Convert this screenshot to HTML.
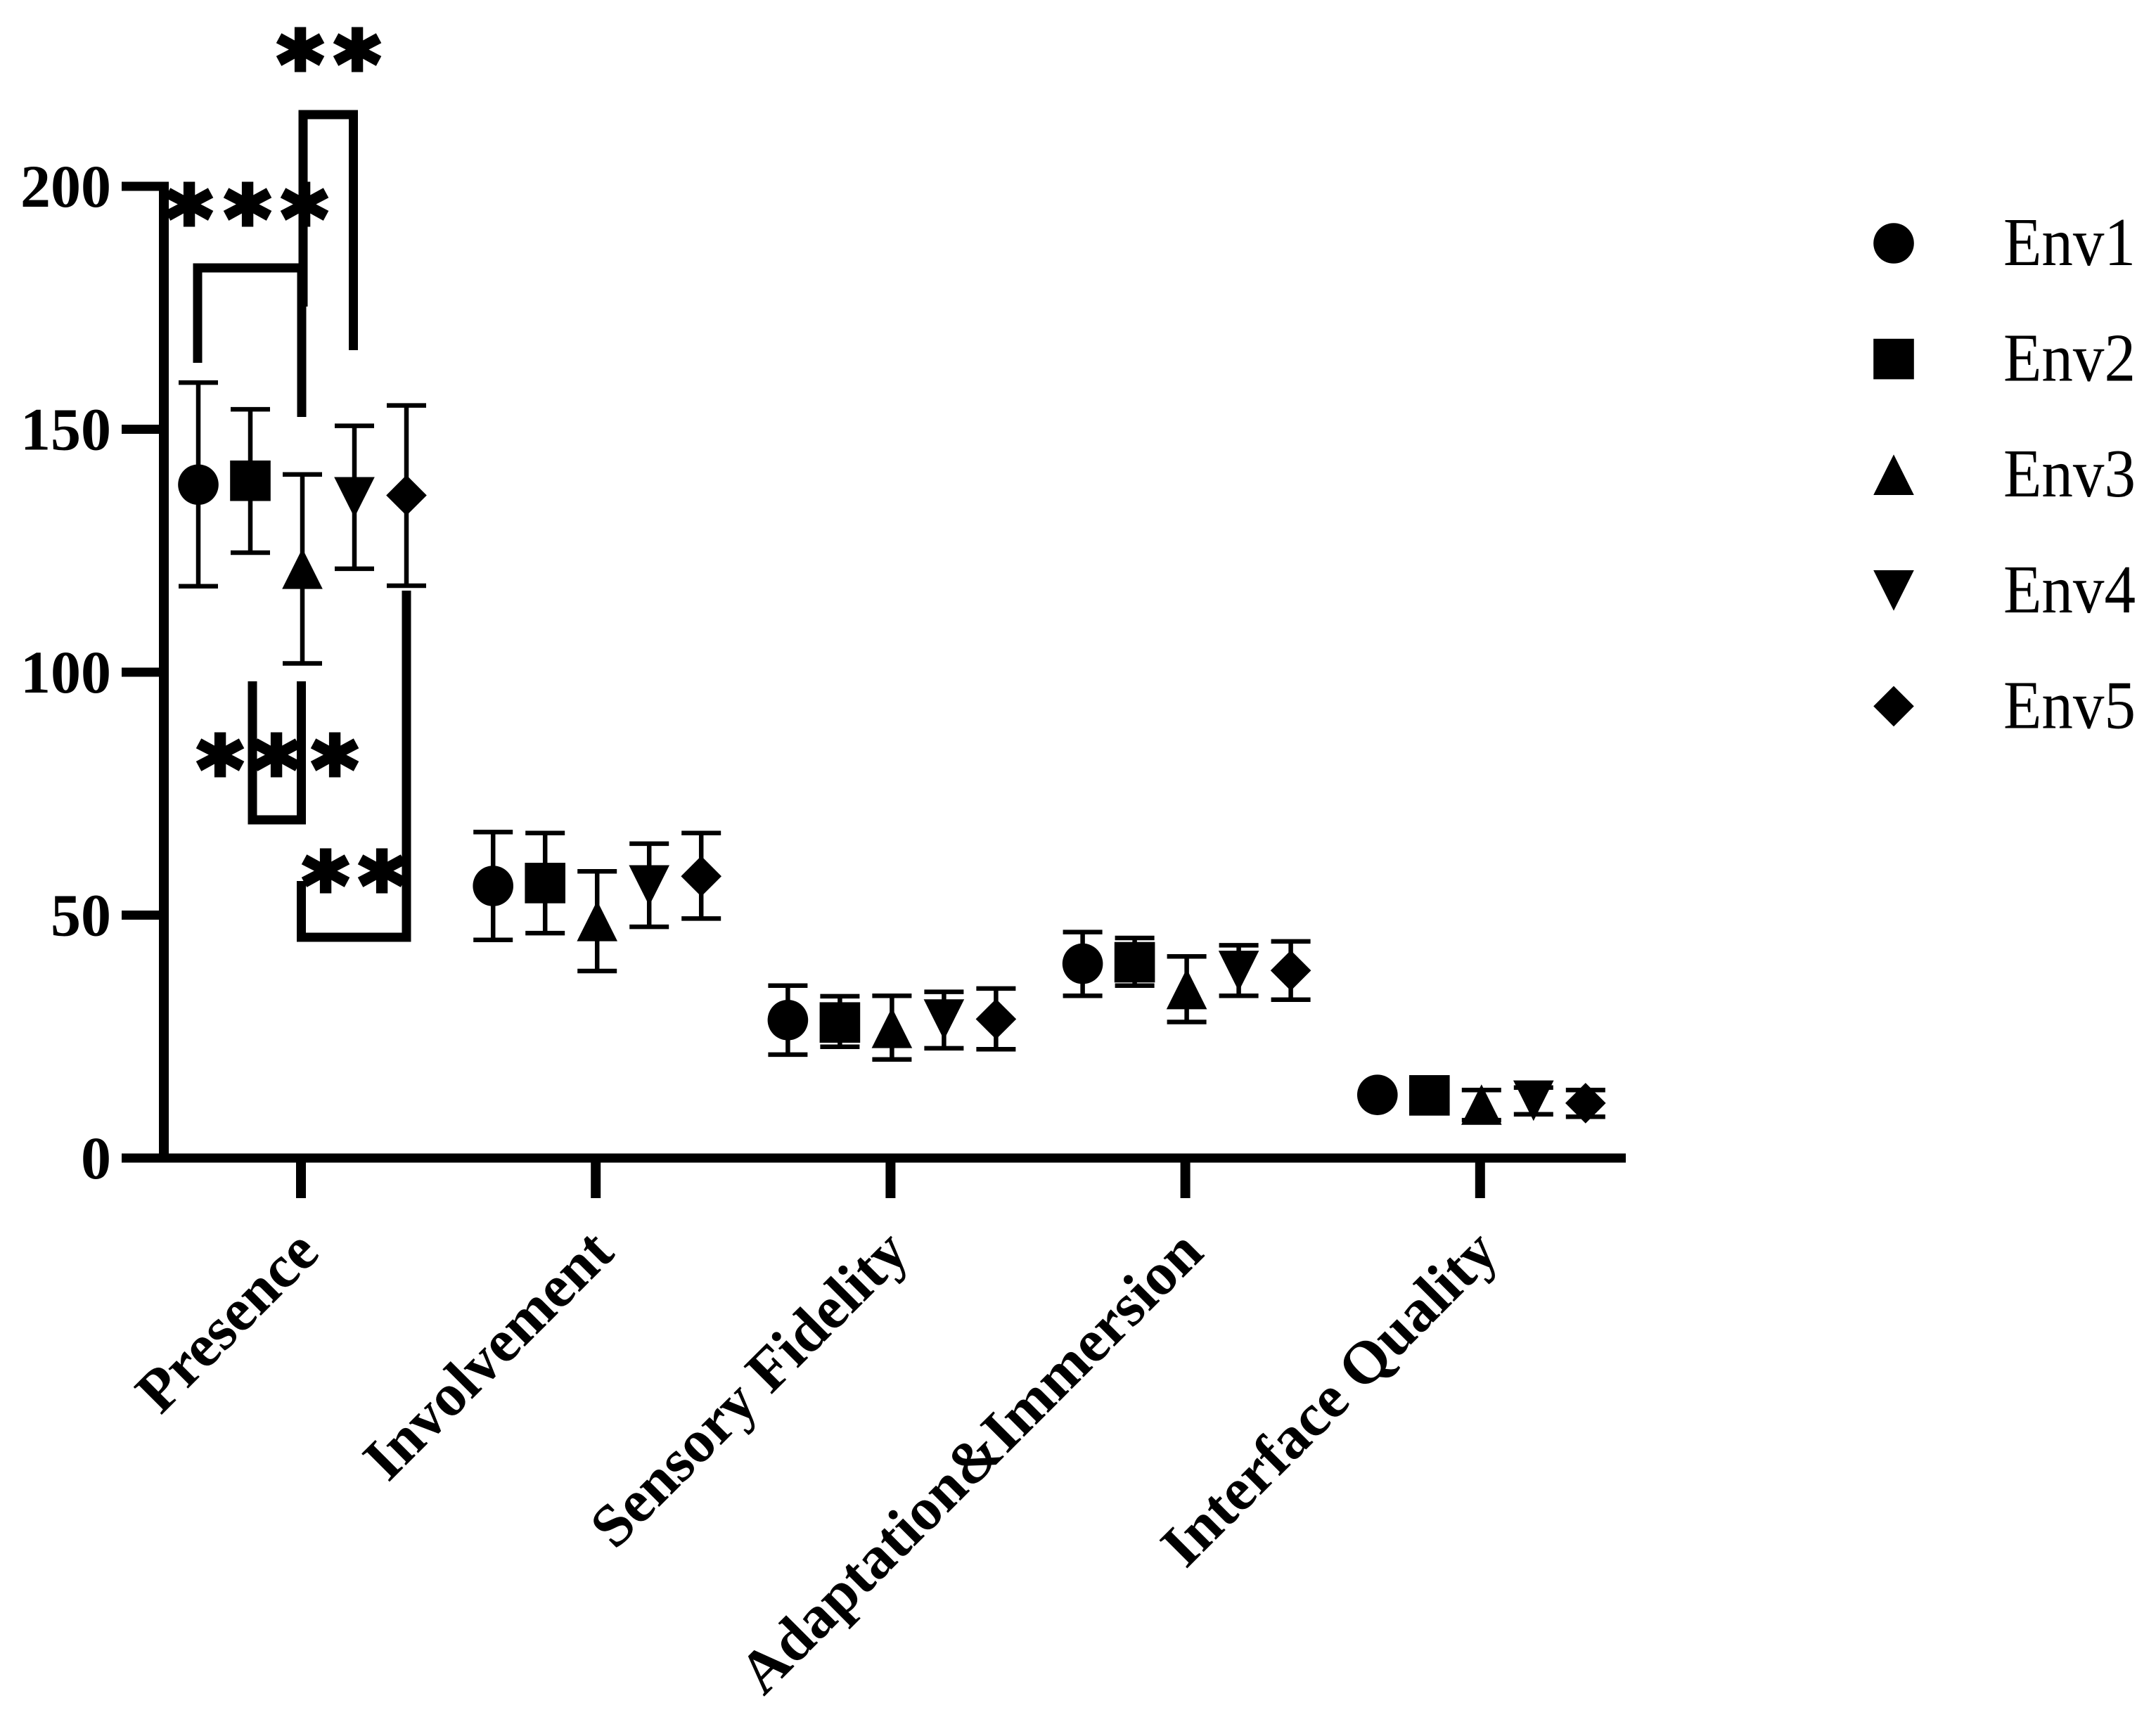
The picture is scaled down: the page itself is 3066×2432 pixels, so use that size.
<!DOCTYPE html>
<html lang="en">
<head>
<meta charset="utf-8">
<title>Env scores by category</title>
<style>
html,body{margin:0;padding:0;background:#fff;width:3066px;height:2432px;overflow:hidden}
svg{display:block}
.serif{font-family:"Liberation Serif","Times New Roman",serif}
.tick{font-weight:bold;font-size:86px;fill:#000}
.cat{font-weight:bold;font-size:86px;fill:#000}
.star{font-family:"DejaVu Sans",sans-serif;font-weight:bold;font-size:125px;fill:#000;stroke:#000;stroke-width:6;text-anchor:middle}
.br{fill:none;stroke:#000;stroke-width:13;stroke-linejoin:miter;stroke-linecap:butt}
</style>
</head>
<body>
<svg id="chart" xmlns="http://www.w3.org/2000/svg" width="3066" height="2432" viewBox="0 0 3066 2432">
<rect width="3066" height="2432" fill="#fff"/>
<g id="axes"></g>
<g id="series"></g>
<g id="annotations">
<path class="br" d="M281 516V381H429V593"/>
<path class="br" d="M431 436V163H502.5V498"/>
<path class="br" d="M359 969V1166H428.5V969"/>
<path class="br" d="M428.5 1253V1333H578V840"/>
<text class="star" x="427 508" y="134">**</text>
<text class="star" x="269 352 433" y="354">***</text>
<text class="star" x="313 393 476" y="1137">***</text>
<text class="star" x="463 543" y="1302">**</text>
</g>
<g id="legend"></g>
</svg>
<script>
const categories = ["Presence", "Involvement", "Sensory Fidelity", "Adaptation&Immersion", "Interface Quality"];
const seriesNames = ["Env1", "Env2", "Env3", "Env4", "Env5"];
const yTickValues = [0, 50, 100, 150, 200];

const env1Mean = [138.6, 56.0, 28.4, 40.0, 13.0];
const env1Upper = [159.6, 67.1, 35.5, 46.5, 13.4];
const env1Lower = [117.7, 44.9, 21.3, 33.4, 12.6];

const env2Mean = [139.4, 56.6, 27.9, 40.3, 12.9];
const env2Upper = [154.1, 66.9, 33.3, 45.3, 14.5];
const env2Lower = [124.6, 46.3, 22.9, 35.5, 11.3];

const env3Mean = [121.3, 48.8, 26.8, 34.8, 11.0];
const env3Upper = [140.7, 59.0, 33.4, 41.5, 14.0];
const env3Lower = [101.8, 38.5, 20.3, 28.0, 7.8];

const env4Mean = [136.0, 56.1, 28.5, 38.5, 11.8];
const env4Upper = [150.7, 64.7, 34.2, 43.8, 14.5];
const env4Lower = [121.3, 47.6, 22.6, 33.4, 9.0];

const env5Mean = [136.4, 58.0, 28.6, 38.6, 11.3];
const env5Upper = [154.9, 66.9, 34.9, 44.6, 14.0];
const env5Lower = [117.8, 49.3, 22.4, 32.6, 8.5];

const allMeans = [env1Mean, env2Mean, env3Mean, env4Mean, env5Mean];
const allUppers = [env1Upper, env2Upper, env3Upper, env4Upper, env5Upper];
const allLowers = [env1Lower, env2Lower, env3Lower, env4Lower, env5Lower];
const markerKinds = ["circle", "square", "up", "down", "diamond"];

const SVGNS = "http://www.w3.org/2000/svg";
function yScale(v) { return 1647 - 6.91 * v; }
function xTick(i) { return 428 + 419.2 * i; }
function xPoint(i, s) { return xTick(i) + 2 + (s - 2) * 74; }
function make(tag, attrs, parent) {
  const el = document.createElementNS(SVGNS, tag);
  for (const k in attrs) el.setAttribute(k, attrs[k]);
  parent.appendChild(el);
  return el;
}
function marker(kind, cx, cy, parent) {
  const h = 28.8;
  let el;
  if (kind === "circle") el = make("circle", {cx: cx, cy: cy, r: h, fill: "#000"}, parent);
  else if (kind === "square") el = make("rect", {x: cx - h, y: cy - h, width: 2 * h, height: 2 * h, fill: "#000"}, parent);
  else if (kind === "up") el = make("polygon", {points: `${cx},${cy - h} ${cx + h},${cy + h} ${cx - h},${cy + h}`, fill: "#000"}, parent);
  else if (kind === "down") el = make("polygon", {points: `${cx - h},${cy - h} ${cx + h},${cy - h} ${cx},${cy + h}`, fill: "#000"}, parent);
  else el = make("polygon", {points: `${cx},${cy - h} ${cx + h},${cy} ${cx},${cy + h} ${cx - h},${cy}`, fill: "#000"}, parent);
  return el;
}

const axes = document.getElementById("axes");
const yAxis = make("line", {x1: 233, x2: 233, y1: yScale(200) - 6.5, y2: yScale(0), stroke: "#000", "stroke-width": 14}, axes);


const xAxis = make("line", {x1: 173, x2: 2312, y1: yScale(0), y2: yScale(0), stroke: "#000", "stroke-width": 13}, axes);



yTickValues.forEach(function (v) {
  const t = make("line", {x1: 173, x2: 233, y1: yScale(v), y2: yScale(v), stroke: "#000", "stroke-width": 13}, axes);
  
  
  const l = make("text", {x: 158, y: yScale(v) + 29, "text-anchor": "end", class: "serif tick"}, axes);
  
  
  l.textContent = String(v);
});

categories.forEach(function (c, i) {
  const x = xTick(i);
  const t = make("line", {x1: x, x2: x, y1: yScale(0), y2: 1704, stroke: "#000", "stroke-width": 14}, axes);
  
  
  const ax = x + 29, ay = 1785;
  const l = make("text", {x: ax, y: ay, "text-anchor": "end", class: "serif cat", transform: `rotate(-45 ${ax} ${ay})`}, axes);
  
  
  l.textContent = c;
});

const seriesRoot = document.getElementById("series");
seriesNames.forEach(function (name, s) {
  const g = make("g", {}, seriesRoot);
  
  
  categories.forEach(function (c, i) {
    const x = xPoint(i, s);
    const yHi = yScale(allUppers[s][i]);
    const yLo = yScale(allLowers[s][i]);
    const stem = make("line", {x1: x, x2: x, y1: yHi, y2: yLo, stroke: "#000", "stroke-width": 6.5}, g);
    
    
    const capTop = make("line", {x1: x - 28, x2: x + 28, y1: yHi, y2: yHi, stroke: "#000", "stroke-width": 6.5}, g);
    
    
    const capBottom = make("line", {x1: x - 28, x2: x + 28, y1: yLo, y2: yLo, stroke: "#000", "stroke-width": 6.5}, g);
    
    
    const m = marker(markerKinds[s], x, yScale(allMeans[s][i]), g);
    
    
  });
});

const legend = document.getElementById("legend");
seriesNames.forEach(function (name, s) {
  const cy = 346 + 164.6 * s;
  const g = make("g", {}, legend);
  
  
  const m = marker(markerKinds[s], 2693, cy, g);
  
  
  const t = make("text", {x: 2849, y: cy + 31, class: "serif", "font-size": 97, fill: "#000", textLength: 188, lengthAdjust: "spacingAndGlyphs"}, g);
  
  
  t.textContent = name;
});
</script>
</body>
</html>
